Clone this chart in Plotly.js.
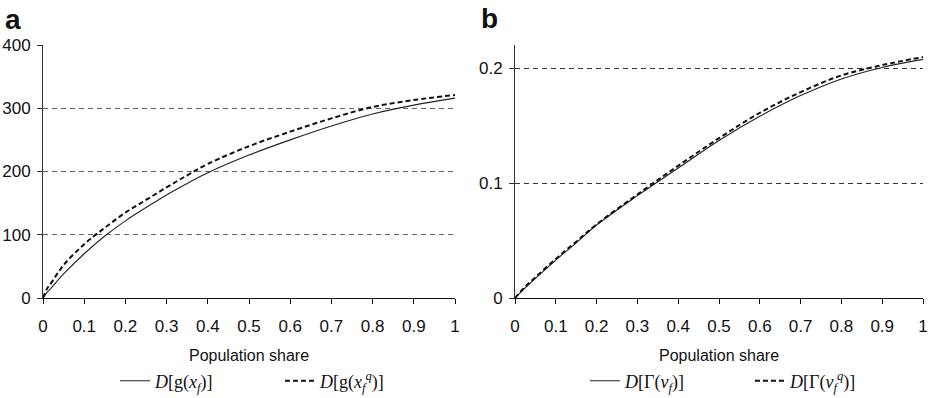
<!DOCTYPE html>
<html>
<head>
<meta charset="utf-8">
<script src="https://cdn.plot.ly/plotly-3.0.1.min.js"></script>
<style>html,body{margin:0;padding:0;background:#fff;}#chart{width:935px;height:398px;}</style>
</head>
<body>
<div id="chart"></div>
<script>
// Panel a: D[g(x_f)] (solid) and D[g(x_f^q)] (dashed)
var shareA = [0, 0.01, 0.02, 0.05, 0.1, 0.15, 0.2, 0.25, 0.3, 0.35, 0.4, 0.5, 0.6, 0.7, 0.8, 0.9, 1];
var gSolid  = [0, 9, 16, 38, 70, 98, 122, 143, 163, 181, 198, 226, 250, 272, 291, 305, 316];
var gDashed = [0, 15, 24, 52, 85, 111, 135, 155, 175, 194, 212, 240, 263, 284, 302, 313, 321];

// Panel b: D[Γ(v_f)] (solid) and D[Γ(v_f^q)] (dashed)
var shareB = [0, 0.02, 0.05, 0.1, 0.15, 0.2, 0.3, 0.4, 0.5, 0.6, 0.7, 0.8, 0.9, 1];
var gamSolid  = [0, 0.007, 0.017, 0.033, 0.048, 0.0635, 0.089, 0.113, 0.137, 0.158, 0.176, 0.1905, 0.2005, 0.2075];
var gamDashed = [0, 0.008, 0.018, 0.034, 0.049, 0.064, 0.090, 0.115, 0.139, 0.161, 0.179, 0.1935, 0.2025, 0.2095];

var xTickVals = [0, 0.1, 0.2, 0.3, 0.4, 0.5, 0.6, 0.7, 0.8, 0.9, 1];
var xTickText = ['0', '0.1', '0.2', '0.3', '0.4', '0.5', '0.6', '0.7', '0.8', '0.9', '1'];
var yTickValsA = [0, 100, 200, 300, 400];
var yTickValsB = [0, 0.1, 0.2];
var yTickTextB = ['0', '0.1', '0.2'];

var nameA1 = '<i>D</i>[g(<i>x</i><sub><i>f</i></sub>)]';
var nameA2 = '<i>D</i>[g(<i>x</i><sub><i>f</i></sub><sup><i>q</i></sup>)]';
var nameB1 = '<i>D</i>[Γ(<i>v</i><sub><i>f</i></sub>)]';
var nameB2 = '<i>D</i>[Γ(<i>v</i><sub><i>f</i></sub><sup><i>q</i></sup>)]';

var solidLine = {color: '#222', width: 1.1, shape: 'spline', smoothing: 1};
var dashLine = {color: '#111', width: 2, dash: '5px,3px', shape: 'spline', smoothing: 1};

var traces = [
  {x: shareA, y: gSolid, type: 'scatter', mode: 'lines', name: nameA1, line: solidLine, xaxis: 'x', yaxis: 'y', legend: 'legend'},
  {x: shareA, y: gDashed, type: 'scatter', mode: 'lines', name: nameA2, line: dashLine, xaxis: 'x', yaxis: 'y', legend: 'legend'},
  {x: shareB, y: gamSolid, type: 'scatter', mode: 'lines', name: nameB1, line: solidLine, xaxis: 'x2', yaxis: 'y2', legend: 'legend2'},
  {x: shareB, y: gamDashed, type: 'scatter', mode: 'lines', name: nameB2, line: dashLine, xaxis: 'x2', yaxis: 'y2', legend: 'legend2'}
];

var tickFont = {family: 'Liberation Sans, Arial, sans-serif', size: 17, color: '#111'};
var W = 935, H = 398;
var yDom = [(H - 298) / H, (H - 45) / H];

function xAxis(dom, anchor) {
  return {
    domain: dom, anchor: anchor, range: [0, 1], tickmode: 'array', tickvals: xTickVals, ticktext: xTickText,
    ticks: 'outside', ticklen: 5, tickcolor: '#111', showline: true, linecolor: '#111', linewidth: 1,
    showgrid: false, zeroline: false, tickfont: tickFont, fixedrange: true, ticklabelstandoff: 8, automargin: false,
    title: {text: 'Population share', font: {family: 'Liberation Sans, Arial, sans-serif', size: 16, color: '#111'}, standoff: 14}
  };
}
function yAxis(range, vals, text, anchor, gridColor) {
  var ax = {
    domain: yDom, anchor: anchor, range: range, tickmode: 'array', tickvals: vals,
    ticks: 'outside', ticklen: 5, tickcolor: '#333', showline: true, linecolor: '#333', linewidth: 1,
    showgrid: true, gridcolor: gridColor, gridwidth: 1, griddash: '5px,4px', zeroline: false,
    tickfont: tickFont, fixedrange: true, ticklabelstandoff: 3, automargin: false
  };
  if (text) ax.ticktext = text;
  return ax;
}

var legendFont = {family: 'Liberation Serif, DejaVu Serif, serif', size: 18, color: '#111'};

var layout = {
  width: W, height: H,
  margin: {l: 0, r: 0, t: 0, b: 0, pad: 0, autoexpand: false},
  paper_bgcolor: '#fff', plot_bgcolor: '#fff',
  showlegend: true,
  xaxis: xAxis([43 / W, 455 / W], 'y'),
  yaxis: yAxis([0, 400], yTickValsA, null, 'x', '#666'),
  xaxis2: xAxis([515 / W, 923 / W], 'y2'),
  yaxis2: yAxis([0, 0.22], yTickValsB, yTickTextB, 'x2', '#333'),
  legend: {orientation: 'h', x: 115 / W, xanchor: 'left', y: 17 / H, yanchor: 'middle',
           font: legendFont, bgcolor: 'rgba(0,0,0,0)', entrywidth: 120, entrywidthmode: 'pixels', tracegroupgap: 0},
  legend2: {orientation: 'h', x: 585 / W, xanchor: 'left', y: 17 / H, yanchor: 'middle',
            font: legendFont, bgcolor: 'rgba(0,0,0,0)', entrywidth: 120, entrywidthmode: 'pixels', tracegroupgap: 0},
  annotations: [
    {text: '<b>a</b>', xref: 'paper', yref: 'paper', x: 3 / W, y: (H - 2) / H, xanchor: 'left', yanchor: 'top',
     showarrow: false, font: {family: 'Liberation Sans, Arial, sans-serif', size: 28, color: '#111'}},
    {text: '<b>b</b>', xref: 'paper', yref: 'paper', x: 479 / W, y: (H - 1) / H, xanchor: 'left', yanchor: 'top',
     showarrow: false, font: {family: 'Liberation Sans, Arial, sans-serif', size: 28, color: '#111'}}
  ]
};

Plotly.newPlot('chart', traces, layout, {displayModeBar: false, staticPlot: true});
</script>
</body>
</html>
